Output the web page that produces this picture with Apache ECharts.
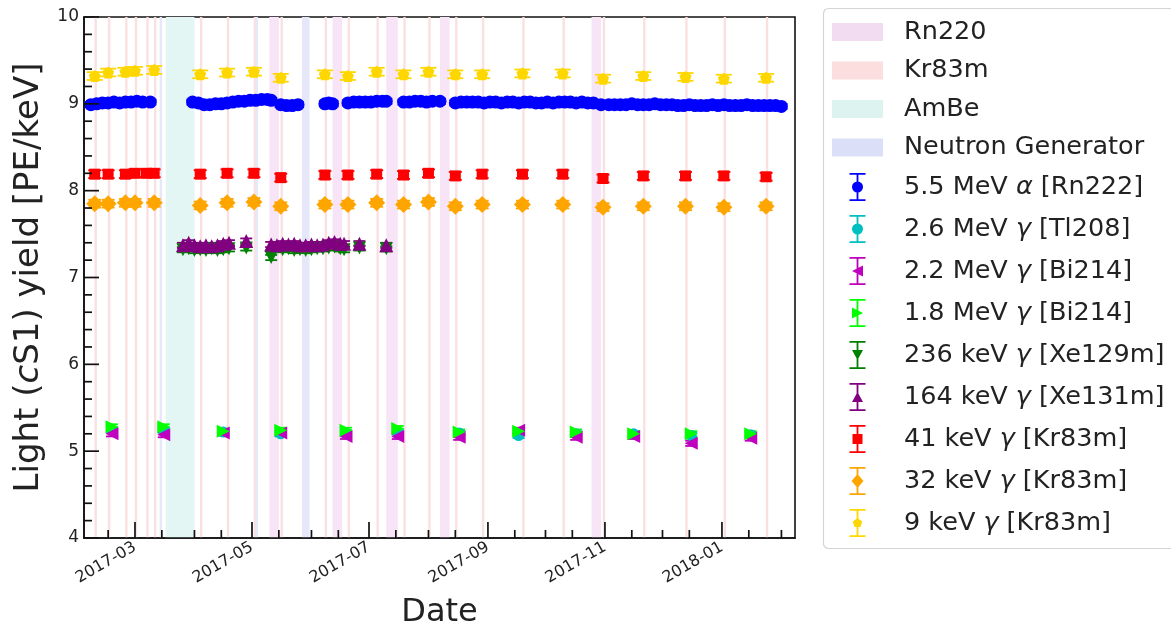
<!DOCTYPE html>
<html><head><meta charset="utf-8">
<script src="https://cdn.jsdelivr.net/npm/echarts@6/dist/echarts.min.js"></script>
<style>html,body{margin:0;padding:0;background:#fff}#c{width:1171px;height:626px}</style>
</head><body><div id="c"></div>
<script>
// ---------------- data ----------------
const rn220Periods = [['2017-05-10','2017-05-15'],['2017-06-12','2017-06-17'],['2017-07-10','2017-07-16'],['2017-08-07','2017-08-12'],['2017-10-25','2017-10-30']];
const kr83mPeriods = [['2017-02-08','2017-02-09'],['2017-02-15','2017-02-16'],['2017-02-24','2017-02-25'],['2017-03-01','2017-03-02'],['2017-03-07','2017-03-08'],['2017-03-11','2017-03-12'],['2017-04-04','2017-04-05'],['2017-04-18','2017-04-19'],['2017-05-02','2017-05-03'],['2017-05-16','2017-05-17'],['2017-06-08','2017-06-09'],['2017-06-20','2017-06-21'],['2017-07-05','2017-07-06'],['2017-07-19','2017-07-20'],['2017-08-01','2017-08-02'],['2017-08-15','2017-08-16'],['2017-08-29','2017-08-30'],['2017-09-19','2017-09-20'],['2017-10-10','2017-10-11'],['2017-10-31','2017-11-01'],['2017-11-21','2017-11-22'],['2017-12-13','2017-12-14'],['2018-01-02','2018-01-03'],['2018-01-24','2018-01-25']];
const ambePeriods = [['2017-03-17','2017-04-01']];
const ngPeriods = [['2017-03-14','2017-03-15'],['2017-05-03','2017-05-04'],['2017-05-27','2017-05-31']];

// 5.5 MeV alpha [Rn222]
const rn222Dates = ['2017-02-06','2017-02-09','2017-02-12','2017-02-15','2017-02-18','2017-02-21','2017-02-24','2017-02-27','2017-03-02','2017-03-05','2017-03-09',
 '2017-03-31','2017-04-03','2017-04-06','2017-04-09','2017-04-12','2017-04-15','2017-04-18','2017-04-21','2017-04-24','2017-04-27','2017-04-30','2017-05-03','2017-05-06','2017-05-09','2017-05-11',
 '2017-05-16','2017-05-19','2017-05-22','2017-05-25',
 '2017-06-08','2017-06-10','2017-06-12',
 '2017-06-20','2017-06-23','2017-06-26','2017-06-29','2017-07-02','2017-07-05','2017-07-08','2017-07-10',
 '2017-07-19','2017-07-22','2017-07-25','2017-07-28','2017-07-31','2017-08-03','2017-08-07',
 '2017-08-15','2017-08-18','2017-08-21','2017-08-24','2017-08-27','2017-08-30','2017-09-02','2017-09-05','2017-09-08','2017-09-11','2017-09-14','2017-09-17','2017-09-20','2017-09-23','2017-09-26','2017-09-29','2017-10-02','2017-10-05','2017-10-08','2017-10-11','2017-10-14','2017-10-17','2017-10-20','2017-10-23','2017-10-26',
 '2017-10-30','2017-11-03','2017-11-06','2017-11-09','2017-11-12','2017-11-15','2017-11-18','2017-11-21','2017-11-24','2017-11-27','2017-11-30','2017-12-03','2017-12-06','2017-12-09','2017-12-12','2017-12-15','2017-12-18','2017-12-21','2017-12-24','2017-12-27','2017-12-30','2018-01-02','2018-01-05','2018-01-08','2018-01-11','2018-01-14','2018-01-17','2018-01-20','2018-01-23','2018-01-26','2018-01-29','2018-02-01'];
const rn222Vals = [8.99,9.00,9.01,9.01,9.02,9.01,9.02,9.02,9.03,9.02,9.02,
 9.02,9.01,8.99,8.99,9.00,9.00,9.01,9.02,9.03,9.03,9.04,9.04,9.05,9.05,9.04,
 8.99,8.98,8.98,8.99,
 9.00,9.01,9.00,
 9.01,9.02,9.02,9.02,9.02,9.03,9.03,9.03,
 9.02,9.02,9.03,9.03,9.02,9.03,9.03,
 9.01,9.02,9.02,9.02,9.02,9.01,9.02,9.02,9.01,9.02,9.02,9.01,9.02,9.02,9.01,9.01,9.02,9.01,9.02,9.02,9.02,9.01,9.02,9.01,9.01,
 8.99,8.99,8.99,8.99,8.99,9.00,8.99,8.99,8.99,9.00,8.99,8.99,8.99,8.98,8.98,8.99,8.98,8.98,8.98,8.99,8.98,8.99,8.98,8.98,8.98,8.99,8.98,8.98,8.98,8.98,8.98,8.97];

// 2.6 / 2.2 / 1.8 MeV gammas
const lowDates = ['2017-02-17','2017-03-16','2017-04-16','2017-05-16','2017-06-19','2017-07-16','2017-08-17','2017-09-17','2017-10-17','2017-11-16','2017-12-16','2018-01-16'];
const tl208Vals = [5.24,5.24,5.22,5.20,5.21,5.22,5.21,5.18,5.20,5.20,5.18,5.19];
const bi214_22Vals = [5.20,5.19,5.21,5.21,5.17,5.17,5.16,5.24,5.16,5.17,5.09,5.15];
const bi214_18Vals = [5.28,5.28,5.23,5.24,5.24,5.26,5.22,5.23,5.22,5.20,5.20,5.20];

// 236 keV [Xe129m]
const xe129Dates = ['2017-03-26','2017-03-29','2017-04-01','2017-04-04','2017-04-07','2017-04-10','2017-04-13','2017-04-16','2017-04-19','2017-04-28','2017-05-11','2017-05-17','2017-05-20','2017-05-23','2017-05-26','2017-05-29','2017-06-01','2017-06-04','2017-06-07','2017-06-10','2017-06-13','2017-06-16','2017-06-18','2017-06-26','2017-07-10'];
const xe129Vals = [7.32,7.33,7.31,7.32,7.31,7.33,7.31,7.32,7.33,7.34,7.23,7.32,7.33,7.31,7.32,7.31,7.32,7.33,7.33,7.34,7.35,7.33,7.32,7.34,7.33];
// 164 keV [Xe131m]
const xe131Dates = ['2017-03-26','2017-03-29','2017-04-01','2017-04-04','2017-04-07','2017-04-10','2017-04-13','2017-04-16','2017-04-19','2017-04-28','2017-05-11','2017-05-14','2017-05-17','2017-05-20','2017-05-23','2017-05-26','2017-05-29','2017-06-01','2017-06-04','2017-06-07','2017-06-10','2017-06-13','2017-06-16','2017-06-18','2017-06-26','2017-07-10'];
const xe131Vals = [7.37,7.40,7.37,7.36,7.37,7.36,7.37,7.39,7.40,7.42,7.38,7.37,7.39,7.38,7.39,7.37,7.37,7.38,7.37,7.38,7.40,7.41,7.39,7.39,7.39,7.37];

// Kr83m lines
const kr41Dates = ['2017-02-08','2017-02-15','2017-02-24','2017-03-01','2017-03-07','2017-03-11','2017-04-04','2017-04-18','2017-05-02','2017-05-16','2017-06-08','2017-06-20','2017-07-05','2017-07-19','2017-08-01','2017-08-15','2017-08-29','2017-09-19','2017-10-10','2017-10-31','2017-11-21','2017-12-13','2018-01-02','2018-01-24'];
const kr41Vals = [8.19,8.19,8.19,8.20,8.20,8.20,8.19,8.20,8.20,8.15,8.18,8.18,8.19,8.18,8.20,8.17,8.19,8.19,8.19,8.14,8.17,8.17,8.17,8.16];
const krDates = ['2017-02-08','2017-02-15','2017-02-24','2017-03-01','2017-03-11','2017-04-04','2017-04-18','2017-05-02','2017-05-16','2017-06-08','2017-06-20','2017-07-05','2017-07-19','2017-08-01','2017-08-15','2017-08-29','2017-09-19','2017-10-10','2017-10-31','2017-11-21','2017-12-13','2018-01-02','2018-01-24'];
const kr32Vals = [7.85,7.85,7.86,7.86,7.86,7.83,7.86,7.87,7.82,7.84,7.84,7.86,7.84,7.87,7.82,7.84,7.84,7.84,7.81,7.82,7.82,7.81,7.82];
const kr9Vals = [9.32,9.36,9.37,9.38,9.39,9.34,9.36,9.37,9.30,9.34,9.32,9.37,9.34,9.37,9.34,9.34,9.35,9.35,9.29,9.32,9.31,9.29,9.30];

// error bar half-widths
const errRn222 = 0.03, errLow = 0.03, errXe = 0.03, errKr = 0.045;

// axis ticks
const xMin = '2017-02-02 10:00', xMax = '2018-02-08 02:00';
const xMajorTicks = ['2017-03-01','2017-05-01','2017-07-01','2017-09-01','2017-11-01','2018-01-01'];
const xMinorTicks = ['2017-02-15','2017-03-15','2017-04-01','2017-04-15','2017-05-15','2017-06-01','2017-06-15','2017-07-15','2017-08-01','2017-08-15','2017-09-15','2017-10-01','2017-10-15','2017-11-15','2017-12-01','2017-12-15','2018-01-15','2018-02-01'];
const yMin = 4, yMax = 10, yStep = 1;
const yMajorTicks = [4, 5, 6, 7, 8, 9, 10];
const yMinorTicks = [4.2,4.4,4.6,4.8,5.2,5.4,5.6,5.8,6.2,6.4,6.6,6.8,7.2,7.4,7.6,7.8,8.2,8.4,8.6,8.8,9.2,9.4,9.6,9.8];

// ---------------- chart ----------------
const FONT = 'DejaVu Sans';
const LFS = 25.5; // legend font size
const T = s => +echarts.time.parse(s);

function bandSeries(name, periods, color, minW) {
  return {
    name, type: 'custom', xAxisIndex: 0, yAxisIndex: 0, clip: true, silent: true,
    itemStyle: { color },
    encode: { x: [0, 1] },
    data: periods.map(p => [T(p[0]), T(p[1])]),
    renderItem: (params, api) => {
      const cs = params.coordSys;
      const x0 = api.coord([api.value(0), 7])[0];
      const x1 = api.coord([api.value(1), 7])[0];
      const w = Math.max(x1 - x0, minW);
      const cx = (x0 + x1) / 2;
      return { type: 'rect', shape: { x: cx - w / 2, y: cs.y, width: w, height: cs.height }, style: { fill: color } };
    },
    z: 1
  };
}

function errSeries(dates, vals, err, color, capW) {
  return {
    type: 'custom', silent: true, clip: true,
    encode: { x: 0, y: 1 },
    data: dates.map((d, i) => [T(d), vals[i], err]),
    renderItem: (params, api) => {
      const x = api.value(0), y = api.value(1), e = api.value(2);
      const p1 = api.coord([x, y + e]), p2 = api.coord([x, y - e]);
      const st = { stroke: color, lineWidth: 1.8 };
      return { type: 'group', children: [
        { type: 'line', shape: { x1: p1[0], y1: p1[1], x2: p2[0], y2: p2[1] }, style: st },
        { type: 'line', shape: { x1: p1[0] - capW / 2, y1: p1[1], x2: p1[0] + capW / 2, y2: p1[1] }, style: st },
        { type: 'line', shape: { x1: p2[0] - capW / 2, y1: p2[1], x2: p2[0] + capW / 2, y2: p2[1] }, style: st }
      ]};
    },
    z: 3
  };
}

function markSeries(name, dates, vals, color, symbol, size, rotate) {
  return {
    name, type: 'scatter', symbol, symbolSize: size, symbolRotate: rotate || 0,
    itemStyle: { color, opacity: 1 },
    data: dates.map((d, i) => [T(d), vals[i]]),
    emphasis: { disabled: true }, silent: true, z: 3
  };
}

// inward-pointing ticks (matplotlib style), placed through the axes' own scales
const tickRows = [].concat(
  xMajorTicks.map(d => [T(d), yMin, 16, 0]),
  xMinorTicks.map(d => [T(d), yMin, 8, 0]),
  yMajorTicks.map(v => [T(xMin), v, 15, 1]),
  yMinorTicks.map(v => [T(xMin), v, 8, 1])
);
const tickSeries = {
  type: 'custom', silent: true, clip: false, z: 10,
  encode: { x: 0, y: 1 },
  data: tickRows,
  renderItem: (params, api) => {
    const p = api.coord([api.value(0), api.value(1)]);
    const L = api.value(2);
    const horiz = api.value(3) === 1;
    return { type: 'line',
      shape: horiz ? { x1: p[0], y1: p[1], x2: p[0] + L, y2: p[1] } : { x1: p[0], y1: p[1], x2: p[0], y2: p[1] - L },
      style: { stroke: '#111', lineWidth: 1.7 } };
  }
};

const PENT = 'path://M0,-10L9.51,-3.09L5.88,8.09L-5.88,8.09L-9.51,-3.09Z';
// legend icons drawn in a 51x28 box (errorbar centred at x=25.5)
const BOX = 'M0,0 M51,28 ';
const EB = 'M17.5,0H33.5V1.8H17.5Z M17.5,26.2H33.5V28H17.5Z M24.6,0H26.4V28H24.6Z ';
const ICONS = {
  circle: 'path://' + BOX + EB + 'M20,14A5.5,5.5 0 0 1 31,14A5.5,5.5 0 0 1 20,14Z',
  left: 'path://' + BOX + EB + 'M20,14L31,8.5L31,19.5Z',
  right: 'path://' + BOX + EB + 'M31,14L20,19.5L20,8.5Z',
  down: 'path://' + BOX + EB + 'M20,9L31,9L25.5,19Z',
  up: 'path://' + BOX + EB + 'M25.5,9L31,19L20,19Z',
  square: 'path://' + BOX + EB + 'M20.5,9H30.5V19H20.5Z',
  diamond: 'path://' + BOX + EB + 'M25.5,7L31.5,14L25.5,21L19.5,14Z',
  pent: 'path://' + BOX + EB + 'M25.5,9L30.26,12.45L28.44,18.05L22.56,18.05L20.74,12.45Z'
};

const C = { rn222: '#0000ff', tl: '#00bfbf', bi22: '#bf00bf', bi18: '#00ff00', xe129: '#008000', xe131: '#800080', kr41: '#ff0000', kr32: '#ffa500', kr9: '#ffd700' };
const BAND = { rn220: '#f7e4f6', kr83m: '#fbe0e2', ambe: '#e3f6f4', ng: '#e6e8fa' };
const PATCH = { rn220: '#f2dcf2', kr83m: '#fddede', ambe: '#dcf3f0', ng: '#dcdff8' };

const names = ['5.5 MeV α [Rn222]','2.6 MeV γ [Tl208]','2.2 MeV γ [Bi214]','1.8 MeV γ [Bi214]','236 keV γ [Xe129m]','164 keV γ [Xe131m]','41 keV γ [Kr83m]','32 keV γ [Kr83m]','9 keV γ [Kr83m]'];

const series = [
  bandSeries('Rn220', rn220Periods, BAND.rn220, 2.5),
  bandSeries('Kr83m', kr83mPeriods, BAND.kr83m, 2.4),
  bandSeries('AmBe', ambePeriods, BAND.ambe, 2.5),
  bandSeries('Neutron Generator', ngPeriods, BAND.ng, 2.5),
  errSeries(rn222Dates, rn222Vals, errRn222, C.rn222, 12),
  markSeries(names[0], rn222Dates, rn222Vals, C.rn222, 'circle', 13),
  errSeries(lowDates, tl208Vals, errLow, C.tl, 12),
  markSeries(names[1], lowDates, tl208Vals, C.tl, 'circle', 11),
  errSeries(lowDates, bi214_22Vals, errLow, C.bi22, 12),
  markSeries(names[2], lowDates, bi214_22Vals, C.bi22, 'triangle', 13, 90),
  errSeries(lowDates, bi214_18Vals, errLow, C.bi18, 12),
  markSeries(names[3], lowDates, bi214_18Vals, C.bi18, 'triangle', 13, -90),
  errSeries(xe129Dates, xe129Vals, errXe, C.xe129, 12),
  markSeries(names[4], xe129Dates, xe129Vals, C.xe129, 'triangle', 13, 180),
  errSeries(xe131Dates, xe131Vals, errXe, C.xe131, 12),
  markSeries(names[5], xe131Dates, xe131Vals, C.xe131, 'triangle', 14),
  errSeries(kr41Dates, kr41Vals, errKr, C.kr41, 13),
  markSeries(names[6], kr41Dates, kr41Vals, C.kr41, 'rect', 11),
  errSeries(krDates, kr32Vals, errKr, C.kr32, 13),
  markSeries(names[7], krDates, kr32Vals, C.kr32, 'diamond', 17),
  errSeries(krDates, kr9Vals, errKr, C.kr9, 16),
  markSeries(names[8], krDates, kr9Vals, C.kr9, PENT, 12),
  tickSeries
];

const iconKeys = ['circle','circle','left','right','down','up','square','diamond','pent'];

const option = {
  animation: false,
  backgroundColor: '#fff',
  textStyle: { fontFamily: FONT },
  grid: { left: 84, right: 376, top: 17, bottom: 88, show: true, borderColor: '#111', borderWidth: 1.6, backgroundColor: 'transparent', outerBoundsMode: 'none', containLabel: false },
  graphic: [{ type: 'rect', z: 1, silent: true, shape: { x: 823.5, y: 8.5, width: 420, height: 540, r: 5 }, style: { fill: '#fff', stroke: '#d4d4d4', lineWidth: 1.2 } }],
  legend: [
    { orient: 'vertical', align: 'left', left: 832, top: 19, itemWidth: 51, itemHeight: 18, itemGap: 12.5, selectedMode: false, z: 5,
      textStyle: { fontSize: LFS, fontFamily: FONT, color: '#222', padding: [0, 0, 0, 16] }, padding: 0,
      data: [
        { name: 'Rn220', icon: 'rect', itemStyle: { color: PATCH.rn220 } },
        { name: 'Kr83m', icon: 'rect', itemStyle: { color: PATCH.kr83m } },
        { name: 'AmBe', icon: 'rect', itemStyle: { color: PATCH.ambe } },
        { name: 'Neutron Generator', icon: 'rect', itemStyle: { color: PATCH.ng } }
      ] },
    { orient: 'vertical', align: 'left', left: 832, top: 173, itemWidth: 51, itemHeight: 28, itemGap: 14, selectedMode: false, z: 5,
      textStyle: { fontSize: LFS, fontFamily: FONT, color: '#222',
        rich: { s: { width: 16, fontSize: LFS, fontFamily: FONT }, i: { fontSize: LFS, fontFamily: FONT, color: '#222', fontStyle: 'italic' } } },
      padding: 0,
      formatter: n => '{s| }' + n.replace(/([αγ])/g, '{i|$1}'),
      data: names.map((n, i) => ({ name: n, icon: ICONS[iconKeys[i]] })) }
  ],
  xAxis: {
    type: 'value', min: T(xMin), max: T(xMax), position: 'bottom', scale: true, z: 10,
    name: 'Date', nameLocation: 'middle', nameGap: 59,
    nameTextStyle: { fontSize: 32, fontFamily: FONT, color: '#222' },
    axisLine: { show: true, lineStyle: { color: '#111', width: 1.6 } },
    axisTick: { show: false },
    axisLabel: { show: true, rotate: 30, margin: 8, fontSize: 16, fontFamily: FONT, color: '#222',
      customValues: xMajorTicks.map(T), formatter: v => echarts.time.format(v, '{yyyy}-{MM}', false) },
    splitLine: { show: false }, minorTick: { show: false }
  },
  yAxis: {
    type: 'value', min: yMin, max: yMax, interval: yStep, z: 10,
    name: 'Light ({i|c}S1) yield [PE/keV]', nameLocation: 'middle', nameRotate: 90, nameGap: 36,
    nameTextStyle: { fontSize: 34, fontFamily: FONT, color: '#222',
      rich: { i: { fontSize: 34, fontFamily: FONT, color: '#222', fontStyle: 'italic' } } },
    axisLine: { show: true, lineStyle: { color: '#111', width: 1.6 } },
    axisTick: { show: false },
    minorTick: { show: false },
    axisLabel: { fontSize: 17, fontFamily: FONT, color: '#222', margin: 5 },
    splitLine: { show: false }, minorSplitLine: { show: false }
  },
  series
};

const chart = echarts.init(document.getElementById('c'), null, { renderer: 'canvas' });
chart.setOption(option);
</script>
</body></html>
